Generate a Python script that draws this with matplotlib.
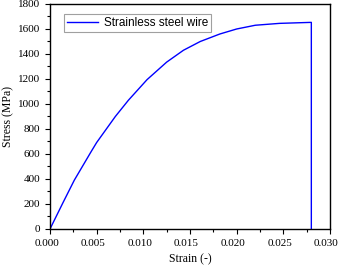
import matplotlib
matplotlib.use("Agg")
import matplotlib.pyplot as plt
import matplotlib.transforms as mtrans
from matplotlib.ticker import MultipleLocator, FormatStrFormatter

strain = [0.0, 0.0014, 0.0026, 0.0044, 0.0050, 0.0070, 0.0084, 0.0104, 0.0125, 0.0143,
          0.0161, 0.0182, 0.0200, 0.0220, 0.0246, 0.0280, 0.0280]
stress = [0, 212, 390, 618, 692, 900, 1030, 1195, 1335, 1430,
          1500, 1560, 1600, 1630, 1645, 1653, 0]
label = "Strainless steel wire"

fig = plt.figure(figsize=(3.42, 2.66), dpi=100)
ax = fig.add_axes([0.1462, 0.1391, 0.8187, 0.8459])
ax.plot(strain, stress, color="#0000ff", lw=1.0, label=label)
ax.set_xlim(0, 0.030)
ax.set_ylim(0, 1800)
ax.xaxis.set_major_locator(MultipleLocator(0.005))
ax.xaxis.set_minor_locator(MultipleLocator(0.0025))
ax.yaxis.set_major_locator(MultipleLocator(200))
ax.yaxis.set_minor_locator(MultipleLocator(100))
ax.xaxis.set_major_formatter(FormatStrFormatter("%.3f"))
ax.tick_params(which="major", direction="out", length=3.5, width=0.8, top=False, right=False)
ax.tick_params(which="minor", direction="out", length=2, width=0.8, top=False, right=False)
shift = mtrans.ScaledTranslation(-3.5 / 100, 0, fig.dpi_scale_trans)
for t in ax.get_xticklabels():
    t.set_transform(t.get_transform() + shift)
for t in ax.get_xticklabels() + ax.get_yticklabels():
    t.set_family("Liberation Serif")
    t.set_fontsize(8)
ax.set_xlabel("Strain (-)", family="Liberation Serif", fontsize=8.5, labelpad=4)
ax.set_ylabel("Stress (MPa)", family="Liberation Serif", fontsize=8.5, labelpad=3)
for s in ax.spines.values():
    s.set_linewidth(1.0)
    s.set_color("black")
leg = ax.legend(loc="upper left", bbox_to_anchor=(0.05, 0.955), frameon=True, fancybox=False,
                prop={"family": "Liberation Sans", "size": 8.5}, handlelength=2.6,
                borderpad=0.25, handletextpad=0.5, borderaxespad=0)
leg.get_frame().set_edgecolor("#888888")
leg.get_frame().set_linewidth(0.8)
fig.savefig("out.png", dpi=100)
